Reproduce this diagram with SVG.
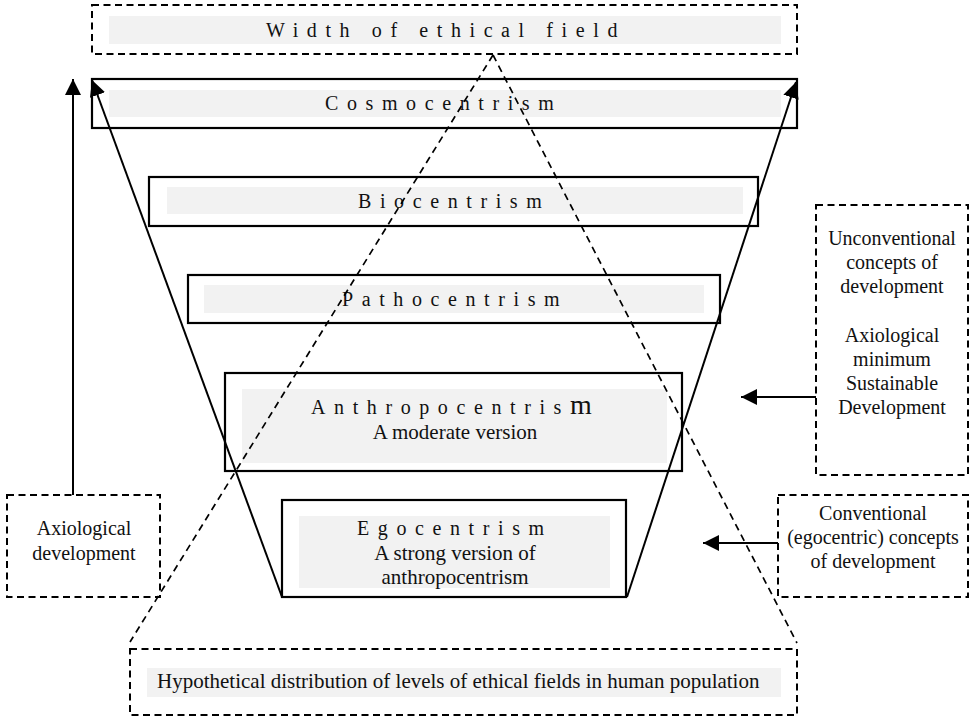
<svg xmlns="http://www.w3.org/2000/svg" width="971" height="718" viewBox="0 0 971 718">
<style>
.bg{fill:#ffffff}
.solid{fill:none;stroke:#000;stroke-width:2.2}
.dash{fill:none;stroke:#000;stroke-width:2;stroke-dasharray:7 4.5}
.gray{fill:#f2f2f2}
.t{font-family:"Liberation Serif","Times New Roman",serif;fill:#111}
.sp{font-size:20px;letter-spacing:8.6px}
.n{font-size:21px;text-anchor:middle}
.s{font-size:20px;text-anchor:middle}
.line{fill:none;stroke:#000;stroke-width:2}
.dline{fill:none;stroke:#000;stroke-width:1.7;stroke-dasharray:7 5}
</style>
<defs>
<marker id="ah" markerUnits="userSpaceOnUse" markerWidth="17" markerHeight="16" refX="16" refY="8" orient="auto">
<path d="M0,0 L16,8 L0,16 Z" fill="#000"/>
</marker>
</defs>
<rect x="0" y="0" width="971" height="718" fill="#fff"/>

<g id="width-field">
<rect class="dash" x="92" y="5" width="705" height="49"/>
<rect class="gray" x="109" y="16" width="672" height="28"/>
<text class="t sp" x="266" y="37">Width of ethical field</text>
</g>

<g id="cosmocentrism">
<rect class="solid" x="92" y="79" width="705" height="49"/>
<rect class="gray" x="109" y="90" width="672" height="27"/>
<text class="t sp" x="325" y="110">Cosmocentrism</text>
</g>

<g id="biocentrism">
<rect class="solid" x="149" y="177" width="609" height="49"/>
<rect class="gray" x="167" y="187" width="576" height="27"/>
<text class="t sp" x="358" y="208">Biocentrism</text>
</g>

<g id="pathocentrism">
<rect class="solid" x="188" y="275" width="532" height="48"/>
<rect class="gray" x="204" y="285" width="500" height="28"/>
<text class="t sp" x="342" y="306">Pathocentrism</text>
</g>

<g id="anthropocentrism">
<rect class="solid" x="225" y="373" width="457" height="98"/>
<rect class="gray" x="242" y="389" width="425" height="74"/>
<text class="t sp" x="311" y="414">Anthropocentris<tspan style="font-size:28px">m</tspan></text>
<text class="t n" x="455" y="439">A moderate version</text>
</g>

<g id="egocentrism">
<rect class="solid" x="282" y="500" width="344" height="97"/>
<rect class="gray" x="299" y="516" width="311" height="72"/>
<text class="t sp" x="357" y="535">Egocentrism</text>
<text class="t n" x="455" y="560">A strong version of</text>
<text class="t n" x="455" y="584">anthropocentrism</text>
</g>

<g id="axiological-development">
<rect class="dash" x="7" y="495" width="153" height="102"/>
<text class="t s" x="84" y="535">Axiological</text>
<text class="t s" x="84" y="560">development</text>
</g>

<g id="unconventional">
<rect class="dash" x="816" y="205" width="152" height="270"/>
<text class="t s" x="892" y="245">Unconventional</text>
<text class="t s" x="892" y="269">concepts of</text>
<text class="t s" x="892" y="293">development</text>
<text class="t s" x="892" y="342">Axiological</text>
<text class="t s" x="892" y="366">minimum</text>
<text class="t s" x="892" y="390">Sustainable</text>
<text class="t s" x="892" y="414">Development</text>
</g>

<g id="conventional">
<rect class="dash" x="778" y="495" width="190" height="102"/>
<text class="t s" x="873" y="520">Conventional</text>
<text class="t s" x="873" y="544">(egocentric) concepts</text>
<text class="t s" x="873" y="568">of development</text>
</g>

<g id="distribution">
<rect class="dash" x="130" y="649" width="667" height="66"/>
<rect class="gray" x="147" y="668" width="634" height="29"/>
<text class="t" style="font-size:21px" x="157" y="688">Hypothetical distribution of levels of ethical fields in human population</text>
</g>

<g id="connectors">
<line class="line" x1="73" y1="495" x2="73" y2="79" marker-end="url(#ah)"/>
<line class="line" x1="282" y1="597" x2="92" y2="80" marker-end="url(#ah)"/>
<line class="line" x1="627" y1="597" x2="796" y2="82" marker-end="url(#ah)"/>
<line class="line" x1="816" y1="397" x2="741" y2="397" marker-end="url(#ah)"/>
<line class="line" x1="778" y1="543" x2="703" y2="543" marker-end="url(#ah)"/>
<line class="dline" x1="493" y1="55" x2="130" y2="642"/>
<line class="dline" x1="493" y1="55" x2="797" y2="643"/>
</g>
</svg>
